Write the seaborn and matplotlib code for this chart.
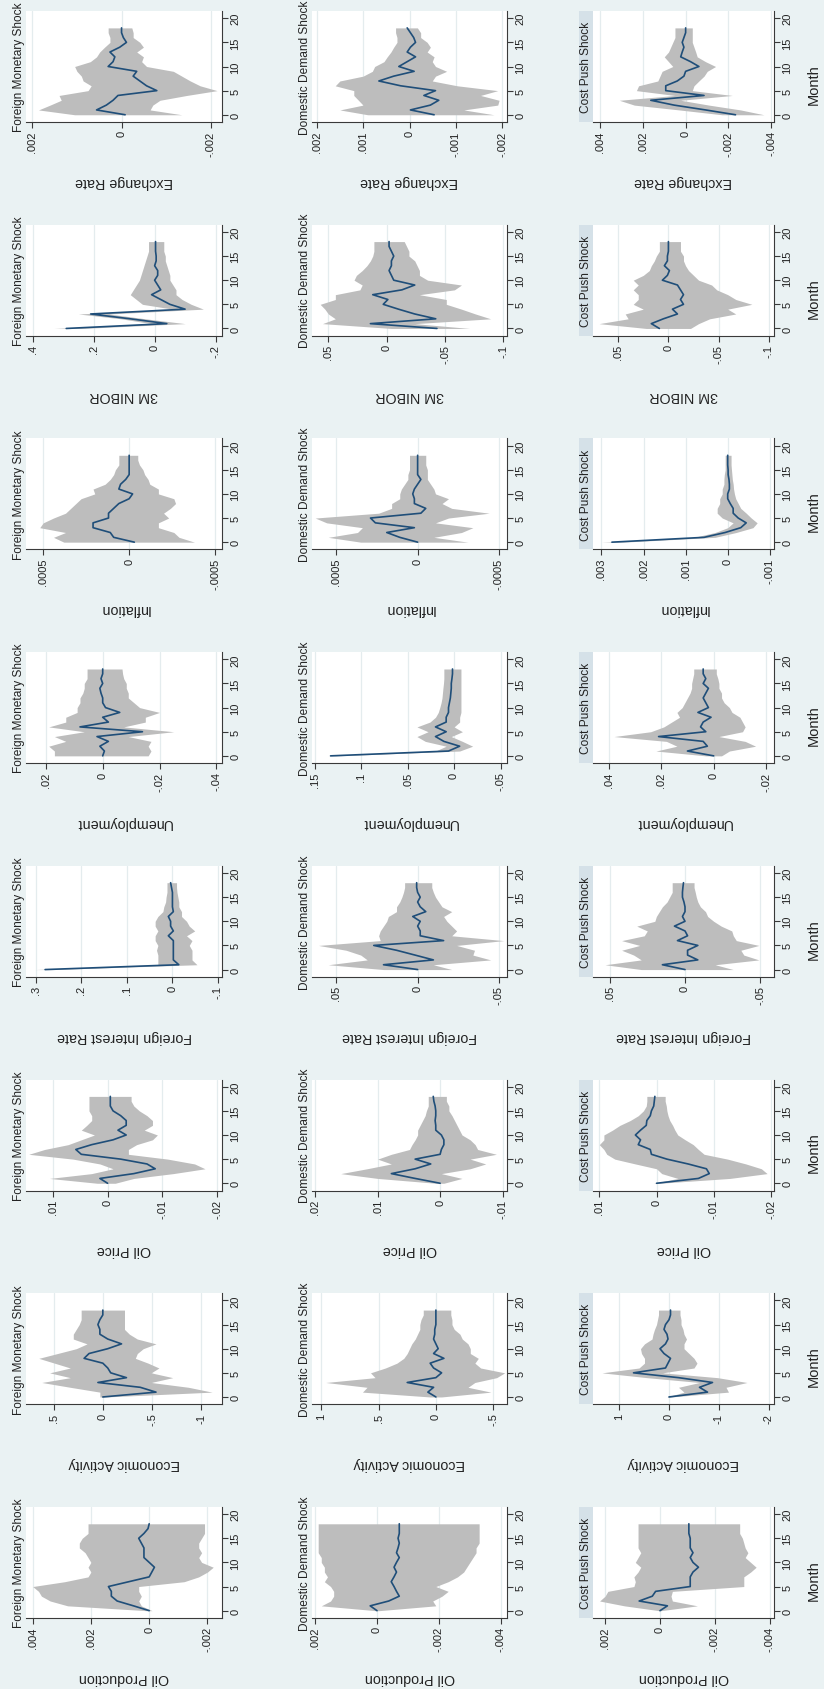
import matplotlib
matplotlib.use("Agg")
import matplotlib.pyplot as plt
import seaborn as sns
import pandas as pd
from matplotlib.patches import Rectangle

# ---------------- data ----------------
months = list(range(19))
month_ticks = [0, 5, 10, 15, 20]
shocks = ["Foreign Monetary Shock", "Domestic Demand Shock", "Cost Push Shock"]
# rows of the (rotated) layout, top to bottom
variables = ["Exchange Rate", "3M NIBOR", "Inflation", "Unemployment",
             "Foreign Interest Rate", "Oil Price", "Economic Activity", "Oil Production"]

# Exchange Rate
er_fms_mid = [-.00008, .00056, .00034, .00019, .00008, -.00079, -.00056, -.00041, -.00026, -.00034, .0003, .00019, .00015, .00026, .00004, -.00011, -.00004, 0, 0]
er_fms_hi = [.00105, .00186, .0016, .00135, .0014, .00075, .00068, .00086, .0009, .001, .00105, .0007, .00056, .00049, .00038, .00026, .00026, .0003, .0003]
er_fms_lo = [-.00135, -.00064, -.0007, -.00086, -.00146, -.00214, -.00176, -.00154, -.00135, -.00116, -.00056, -.00045, -.00049, -.00034, -.00049, -.00041, -.00026, -.00026, -.00023]
er_dds_mid = [-.00053, -.00002, -.00045, -.00063, -.00031, -.00056, .00019, .00066, .00034, -.0001, .00023, .00005, -.00013, .00005, -.00002, -.00013, -.00009, -.00002, .00005]
er_dds_hi = [.0009, .0015, .001, .0011, .0012, .0012, .0016, .0015, .001, .0008, .00075, .00055, .00048, .0004, .00034, .00027, .00027, .0003, .0003]
er_dds_lo = [-.00182, -.00117, -.0019, -.00193, -.00153, -.0019, -.00103, -.00049, -.00056, -.0008, -.00056, -.00049, -.00053, -.00038, -.00045, -.00038, -.00024, -.00024, -.00017]
er_cps_mid = [-.00233, -.00093, .00054, .00163, -.00086, .00093, .00093, .00039, .00008, 0, -.00062, -.00023, .00023, .00016, .00008, .00016, .00008, 0, 0]
er_cps_hi = [-.0017, .0003, .0024, .0031, .0005, .0023, .0022, .0013, .0012, .0011, .0006, .0008, .0010, .0008, .0007, .0006, .0005, .0005, .0005]
er_cps_lo = [-.00366, -.00257, -.00109, .00023, -.00218, -.00031, -.00039, -.00062, -.00086, -.00101, -.0014, -.00093, -.00054, -.00047, -.00039, -.00031, -.00031, -.00031, -.00031]

# 3M NIBOR
nb_fms_mid = [.29, -.04, .08, .21, -.10, -.05, -.02, .01, -.02, -.01, 0, -.01, -.01, 0, -.005, -.005, -.003, -.003, -.003]
nb_fms_hi = [.33, .01, .11, .25, -.06, .04, .06, .08, .07, .06, .05, .045, .04, .035, .03, .025, .02, .02, .02]
nb_fms_lo = [.24, -.10, .03, .15, -.16, -.12, -.09, -.07, -.07, -.06, -.05, -.05, -.045, -.04, -.035, -.035, -.03, -.03, -.03]
nb_dds_mid = [-.043, .014, -.042, -.024, -.01, .003, -.001, .012, -.013, -.024, -.006, -.004, -.002, -.004, -.004, -.006, -.004, -.002, -.002]
nb_dds_hi = [-.004, .055, .044, .05, .053, .057, .044, .044, .023, .021, .028, .026, .021, .017, .014, .012, .011, .011, .011]
nb_dds_lo = [-.071, -.024, -.089, -.076, -.064, -.051, -.051, -.028, -.058, -.064, -.035, -.028, -.028, -.026, -.024, -.019, -.019, -.017, -.015]
nb_cps_mid = [.009, .017, .005, -.009, -.004, -.015, -.012, -.015, -.012, -.009, .006, .001, -.001, .004, .001, .001, 0, 0, 0]
nb_cps_hi = [.022, .069, .04, .043, .025, .035, .03, .03, .035, .03, .035, .025, .019, .017, .014, .012, .009, .009, .009]
nb_cps_lo = [-.022, -.03, -.041, -.067, -.059, -.083, -.067, -.059, -.048, -.043, -.03, -.025, -.020, -.017, -.015, -.015, -.012, -.012, -.012]

# Inflation
in_fms_mid = [-.00003, .00009, .00011, .00021, .00021, .00012, .00012, .00009, .00006, 0, -.00002, .00006, .00005, .00002, 0, 0, 0, 0, 0]
in_fms_hi = [.00038, .00044, .00037, .00052, .0005, .00044, .00037, .00034, .00031, .00028, .0002, .00021, .00014, .00011, .00009, .00008, .00006, .00006, .00006]
in_fms_lo = [-.00038, -.00029, -.00026, -.00017, -.00017, -.00023, -.0002, -.00024, -.00027, -.00026, -.00017, -.00017, -.00012, -.00011, -.00009, -.00008, -.00006, -.00005, -.00005]
in_dds_mid = [0, .00011, .00019, .00002, .00026, .00029, -.00002, -.00005, .00002, .00002, .00003, .00002, 0, -.00002, 0, 0, 0, 0, 0]
in_dds_hi = [.00035, .00055, .00037, .00034, .00056, .00063, .00024, .00016, .00016, .00011, .00011, .0001, .00008, .00006, .00006, .00005, .00005, .00005, .00005]
in_dds_lo = [-.00031, -.0001, -.00027, -.00034, -.00011, -.00019, -.00044, -.00021, -.00015, -.00019, -.00011, -.0001, -.00008, -.00006, -.00006, -.00006, -.00005, -.00005, -.00005]
in_cps_mid = [.00275, .00056, .00006, -.00031, -.00044, -.00025, -.00013, -.00013, -.00006, 0, 0, -.00004, -.00004, -.00003, -.00001, -.00001, 0, 0, 0]
in_cps_hi = [.003, .0008, .0003, 0, -.00013, .00013, .00025, .00025, .00019, .00019, .00013, .00013, .00009, .00009, .00008, .00006, .00006, .00006, .00006]
in_cps_lo = [.0025, .0003, -.0002, -.0006, -.0007, -.00056, -.00044, -.00031, -.00025, -.00019, -.00016, -.00014, -.00013, -.00011, -.0001, -.00009, -.00008, -.00008, -.00008]

# Unemployment
un_fms_mid = [0, -.0006, .001, -.002, .002, -.014, .008, -.002, 0, -.006, -.001, 0, 0, .0006, .001, 0, .0006, 0, 0]
un_fms_hi = [.017, .017, .019, .013, .017, .0065, .019, .013, .013, .009, .009, .008, .008, .007, .0065, .0065, .0055, .0055, .0055]
un_fms_lo = [-.016, -.017, -.016, -.017, -.009, -.025, -.0074, -.015, -.015, -.02, -.013, -.011, -.009, -.009, -.0083, -.0083, -.0074, -.007, -.0068]
un_dds_mid = [.133, .006, -.006, .011, .02, .0085, .02, .0085, .0085, .006, .006, .005, .004, .0035, .003, .003, .0023, .0017, .0017]
un_dds_hi = [.136, .02, .0085, .031, .04, .028, .04, .026, .02, .017, .0154, .014, .013, .0125, .012, .0114, .011, .011, .011]
un_dds_lo = [.127, -.006, -.02, -.009, .003, -.009, 0, -.006, -.006, -.0074, -.0074, -.0074, -.0074, -.0074, -.0074, -.0074, -.0074, -.0074, -.0074]
un_cps_mid = [0, .01, .0024, .004, .021, .003, .005, .004, .001, .006, .002, .003, .004, .003, .002, .004, .003, .004, .004]
un_cps_hi = [.003, .022, .014, .018, .038, .024, .019, .016, .013, .014, .012, .011, .010, .009, .0084, .0084, .008, .0076, .0076]
un_cps_lo = [-.003, -.006, -.016, -.012, -.002, -.011, -.012, -.011, -.010, -.007, -.006, -.004, -.003, -.003, -.002, -.002, -.0016, -.001, -.001]

# Foreign Interest Rate
fi_fms_mid = [.28, -.014, -.002, -.002, -.002, -.002, -.002, .009, -.002, .004, .004, .009, -.002, 0, 0, 0, 0, .002, .004]
fi_fms_hi = [.303, .032, .032, .032, .035, .032, .038, .038, .032, .038, .038, .032, .021, .019, .015, .014, .012, .012, .012]
fi_fms_lo = [.264, -.054, -.043, -.043, -.043, -.037, -.043, -.031, -.049, -.037, -.031, -.02, -.02, -.014, -.014, -.012, -.01, -.009, -.009]
fi_dds_mid = [0, .021, -.0097, .0016, .013, .027, -.016, -.0016, -.0016, 0, -.0016, .003, -.005, -.0016, 0, -.0016, 0, .0006, .0006]
fi_dds_hi = [.021, .055, .031, .035, .044, .061, .023, .024, .023, .021, .019, .018, .013, .013, .011, .0097, .0087, .008, .008]
fi_dds_lo = [-.021, -.0097, -.045, -.034, -.035, -.024, -.053, -.021, -.024, -.021, -.018, -.016, -.021, -.015, -.013, -.011, -.0097, -.0087, -.0087]
fi_cps_mid = [0, .015, -.0085, -.0017, -.0017, -.0085, .005, -.0017, 0, .007, 0, .0017, 0, 0, .0007, .0017, .0017, .0014, .001]
fi_cps_hi = [.029, .053, .029, .034, .042, .03, .042, .027, .025, .032, .02, .019, .017, .015, .0119, .0102, .0085, .0085, .0085]
fi_cps_lo = [-.032, -.02, -.049, -.039, -.037, -.049, -.034, -.032, -.031, -.024, -.019, -.015, -.0136, -.0102, -.0085, -.0075, -.0068, -.006, -.006]

# Oil Price
op_fms_mid = [0, .0014, -.0048, -.0087, -.0072, -.0024, .0048, .0058, .0029, -.001, -.0034, -.0019, -.0034, -.0034, -.0024, -.001, -.0005, -.0005, -.0005]
op_fms_hi = [.0019, .0106, .0029, -.001, .0014, .0063, .0144, .0115, .0072, .0048, .0024, .0048, .0038, .0029, .0029, .0034, .0034, .0034, .0034]
op_fms_lo = [-.0014, -.0048, -.012, -.0178, -.0159, -.011, -.0038, -.0038, -.0053, -.0082, -.0091, -.0067, -.0082, -.0082, -.0072, -.0058, -.0048, -.0043, -.0043]
op_dds_mid = [0, .004, .0078, .004, .0015, .004, 0, -.0002, -.0006, -.0006, -.0002, .0007, .0007, .0008, .0007, .0007, .0008, .001, .0011]
op_dds_hi = [.0007, .01, .0159, .0117, .0078, .01, .0078, .0049, .0045, .004, .0036, .0036, .0032, .0028, .0024, .0022, .0019, .0019, .0019]
op_dds_lo = [-.0006, -.0035, -.0002, -.0048, -.0073, -.0048, -.009, -.006, -.0056, -.0048, -.0035, -.0031, -.0027, -.0023, -.0019, -.0014, -.0014, -.001, -.001]
op_cps_mid = [0, -.0073, -.0092, -.0087, -.0055, -.0018, .0009, .0011, .0032, .0028, .0037, .0028, .0018, .0017, .0011, .0009, .0005, .0004, .0003]
op_cps_hi = [.0005, -.0037, -.0009, 0, .0037, .0073, .0087, .0092, .01, .0092, .0092, .0077, .0064, .0046, .0032, .0023, .0018, .0017, .0017]
op_cps_lo = [-.0005, -.0128, -.0193, -.0183, -.0156, -.0124, -.0083, -.0073, -.0064, -.005, -.0037, -.0032, -.0028, -.0023, -.002, -.0018, -.0017, -.0015, -.0015]

# Economic Activity
ea_fms_mid = [0, -.54, -.38, .05, -.24, -.08, -.05, 0, .19, .14, -.05, -.19, -.05, .03, .03, .05, .03, 0, 0]
ea_fms_hi = [.03, .03, .33, .62, .33, .54, .33, .49, .65, .46, .27, .16, .30, .30, .27, .24, .22, .22, .22]
ea_fms_lo = [-.03, -1.11, -.87, -.49, -.71, -.49, -.57, -.46, -.33, -.35, -.41, -.54, -.35, -.27, -.22, -.22, -.22, -.22, -.22]
ea_dds_mid = [0, .07, .02, .25, 0, -.05, .02, .05, -.07, .02, -.02, 0, .02, .01, .01, 0, 0, 0, 0]
ea_dds_hi = [.05, .64, .6, .96, .53, .57, .44, .34, .28, .25, .23, .21, .18, .16, .14, .14, .13, .11, .11]
ea_dds_lo = [-.05, -.48, -.28, -.34, -.53, -.6, -.39, -.34, -.37, -.30, -.30, -.28, -.23, -.21, -.16, -.14, -.14, -.13, -.13]
ea_cps_mid = [0, -.77, -.61, -.87, -.19, .71, .07, .02, -.03, .1, .18, .07, .02, .04, .1, .07, 0, -.03, -.03]
ea_cps_hi = [.04, -.3, -.19, -.61, .44, 1.34, .6, .49, .49, .55, .57, .49, .34, .32, .29, .25, .23, .21, .21]
ea_cps_lo = [-.04, -1.19, -1.14, -1.56, -.97, .13, -.5, -.56, -.5, -.4, -.3, -.3, -.35, -.3, -.28, -.24, -.24, -.22, -.22]

# Oil Production
pr_fms_mid = [0, .00054, .0011, .0013, .0013, .0014, .0007, 0, -.00009, -.00018, 0, .00018, .00018, .00018, .00027, .00036, .00018, .00004, 0]
pr_fms_hi = [.0001, .0028, .0034, .0037, .0038, .004, .0029, .0021, .002, .0021, .002, .0021, .0022, .0024, .0024, .0023, .0021, .0021, .0021]
pr_fms_lo = [-.0001, .00027, .00036, .00027, .00036, .00036, -.0012, -.0017, -.002, -.0022, -.0018, -.0017, -.0018, -.0017, -.0017, -.0018, -.0019, -.0019, -.0019]
pr_dds_mid = [0, .00022, -.00038, -.00072, -.00063, -.00055, -.00046, -.00055, -.00063, -.00055, -.00063, -.00072, -.00063, -.00068, -.00072, -.00068, -.00072, -.00072, -.00072]
pr_dds_hi = [.00005, .0018, .0015, .0014, .0014, .0015, .0017, .0016, .0017, .0017, .0018, .0018, .0019, .0019, .0019, .0019, .0019, .0019, .0019]
pr_dds_lo = [-.00007, -.0019, -.0018, -.0021, -.0023, -.0019, -.0023, -.0026, -.0028, -.0029, -.003, -.0031, -.0032, -.0032, -.0033, -.0033, -.0033, -.0033, -.0033]
pr_cps_mid = [0, -.00027, .00076, .00028, .00016, -.0011, -.0011, -.0011, -.0012, -.0014, -.0012, -.0011, -.0012, -.0011, -.0011, -.0011, -.00105, -.00105, -.00105]
pr_cps_hi = [.00004, .0013, .0022, .002, .0019, .00095, .0009, .00095, .0008, .0007, .0009, .0008, .0007, .0008, .0008, .0008, .0008, .0008, .0008]
pr_cps_lo = [-.00004, -.00136, -.00045, -.0004, -.00045, -.00305, -.00305, -.00305, -.0033, -.0035, -.0033, -.0031, -.0032, -.0031, -.00305, -.003, -.0029, -.0029, -.0029]

# value-axis tick labels per panel (row = variable, column = shock)
er_ticks = [[.002, 0, -.002], [.002, .001, 0, -.001, -.002], [.004, .002, 0, -.002, -.004]]
nb_ticks = [[.4, .2, 0, -.2], [.05, 0, -.05, -.1], [.05, 0, -.05, -.1]]
in_ticks = [[.0005, 0, -.0005], [.0005, 0, -.0005], [.003, .002, .001, 0, -.001]]
un_ticks = [[.02, 0, -.02, -.04], [.15, .1, .05, 0, -.05], [.04, .02, 0, -.02]]
fi_ticks = [[.3, .2, .1, 0, -.1], [.05, 0, -.05], [.05, 0, -.05]]
op_ticks = [[.01, 0, -.01, -.02], [.02, .01, 0, -.01], [.01, 0, -.01, -.02]]
ea_ticks = [[.5, 0, -.5, -1], [1, .5, 0, -.5], [1, 0, -1, -2]]
pr_ticks = [[.004, .002, 0, -.002], [.002, 0, -.002, -.004], [.002, 0, -.002, -.004]]

# value-axis ranges (max, min)
er_range = [(.00214, -.00225), (.0021, -.0021), (.00433, -.00413)]
nb_range = [(.422, -.221), (.064, -.103), (.075, -.105)]
in_range = [(.0006, -.00054), (.00065, -.00055), (.0032, -.0011)]
un_range = [(.027, -.042), (.153, -.057), (.046, -.023)]
fi_range = [(.322, -.109), (.065, -.055), (.061, -.059)]
op_range = [(.0149, -.0209), (.0205, -.0107), (.0111, -.0205)]
ea_range = [(.78, -1.21), (1.08, -.62), (1.52, -2.1)]
pr_range = [(.00423, -.0025), (.0021, -.0042), (.00244, -.00415)]

panels = [
    ([(er_fms_mid, er_fms_lo, er_fms_hi), (er_dds_mid, er_dds_lo, er_dds_hi), (er_cps_mid, er_cps_lo, er_cps_hi)], er_ticks, er_range),
    ([(nb_fms_mid, nb_fms_lo, nb_fms_hi), (nb_dds_mid, nb_dds_lo, nb_dds_hi), (nb_cps_mid, nb_cps_lo, nb_cps_hi)], nb_ticks, nb_range),
    ([(in_fms_mid, in_fms_lo, in_fms_hi), (in_dds_mid, in_dds_lo, in_dds_hi), (in_cps_mid, in_cps_lo, in_cps_hi)], in_ticks, in_range),
    ([(un_fms_mid, un_fms_lo, un_fms_hi), (un_dds_mid, un_dds_lo, un_dds_hi), (un_cps_mid, un_cps_lo, un_cps_hi)], un_ticks, un_range),
    ([(fi_fms_mid, fi_fms_lo, fi_fms_hi), (fi_dds_mid, fi_dds_lo, fi_dds_hi), (fi_cps_mid, fi_cps_lo, fi_cps_hi)], fi_ticks, fi_range),
    ([(op_fms_mid, op_fms_lo, op_fms_hi), (op_dds_mid, op_dds_lo, op_dds_hi), (op_cps_mid, op_cps_lo, op_cps_hi)], op_ticks, op_range),
    ([(ea_fms_mid, ea_fms_lo, ea_fms_hi), (ea_dds_mid, ea_dds_lo, ea_dds_hi), (ea_cps_mid, ea_cps_lo, ea_cps_hi)], ea_ticks, ea_range),
    ([(pr_fms_mid, pr_fms_lo, pr_fms_hi), (pr_dds_mid, pr_dds_lo, pr_dds_hi), (pr_cps_mid, pr_cps_lo, pr_cps_hi)], pr_ticks, pr_range),
]

# ---------------- style ----------------
sns.set_style("white")
plt.rcParams["font.family"] = ["Liberation Sans", "DejaVu Sans"]

BG = "#eaf2f3"
BAND = "#bdbdbd"
LINE = "#1f4e79"
AXC = "#3a3a3a"
GRID = "#e4ecee"
TXT = "#222222"

W, H = 824, 1690
fig = plt.figure(figsize=(W / 100, H / 100), dpi=100)
fig.patch.set_facecolor(BG)

col_px = [(26, 196), (312, 195), (593, 181)]
ROW0, ROWSTEP, PH = 12, 213.7, 111


def stata_fmt(v):
    if v == 0:
        return "0"
    s = f"{v:g}"
    if s.startswith("-0."):
        s = "-" + s[2:]
    elif s.startswith("0."):
        s = s[1:]
    return s


for r, (series, ticks, ranges) in enumerate(panels):
    top = ROW0 + ROWSTEP * r
    for c in range(3):
        left, width = col_px[c]
        mid, lo, hi = series[c]
        ax = fig.add_axes([left / W, 1 - (top + PH) / H, width / W, PH / H])
        ax.set_facecolor("white")
        for t in ticks[c]:
            ax.axvline(t, color=GRID, lw=0.9, zorder=0)
        ax.fill_betweenx(months, lo, hi, color=BAND, lw=0, zorder=1)
        df = pd.DataFrame({"value": mid, "month": months})
        sns.lineplot(data=df, x="value", y="month", orient="y", estimator=None,
                     ax=ax, color=LINE, lw=1.2, zorder=3)
        ax.set_xlim(ranges[c][0], ranges[c][1])
        ax.set_ylim(-1.5, 21.5)
        ax.set_xticks(ticks[c])
        ax.set_xticklabels([stata_fmt(t) for t in ticks[c]], rotation=90,
                           fontsize=8, color=TXT)
        ax.yaxis.tick_right()
        ax.set_yticks(month_ticks)
        ax.set_yticklabels([str(m) for m in month_ticks], rotation=90,
                           fontsize=8, color=TXT, va="center")
        ax.set_xlabel("")
        ax.set_ylabel("")
        for s in ["top", "left"]:
            ax.spines[s].set_visible(False)
        for s in ["bottom", "right"]:
            ax.spines[s].set_visible(True)
            ax.spines[s].set_color(AXC)
            ax.spines[s].set_linewidth(0.8)
        ax.tick_params(axis="both", direction="out", length=4, width=0.8,
                       color=AXC, pad=2)
        ax.tick_params(axis="y", right=True, left=False)
        ax.tick_params(axis="x", bottom=True)
        ax.grid(False)

        # shock title (box only visible for the Cost Push column)
        if c == 2:
            fig.add_artist(Rectangle(((left - 14) / W, 1 - (top + PH) / H), 14 / W, PH / H,
                                     transform=fig.transFigure, facecolor="#d5e1e8",
                                     edgecolor="none", zorder=0))
        fig.text((left - 7) / W, 1 - (top + PH / 2) / H, shocks[c], rotation=90,
                 ha="center", va="center", fontsize=8.6, color=TXT)
        # variable label (upside down)
        fig.text((left + width / 2) / W, 1 - (top + 170) / H, variables[r], rotation=180,
                 ha="center", va="center", fontsize=10.3, color=TXT)
        if c == 2:
            fig.text(814 / W, 1 - (top + 72.5) / H, "Month", rotation=90,
                     ha="center", va="center", fontsize=10.5, color=TXT)

fig.savefig("out.png", dpi=100, facecolor=fig.get_facecolor())
